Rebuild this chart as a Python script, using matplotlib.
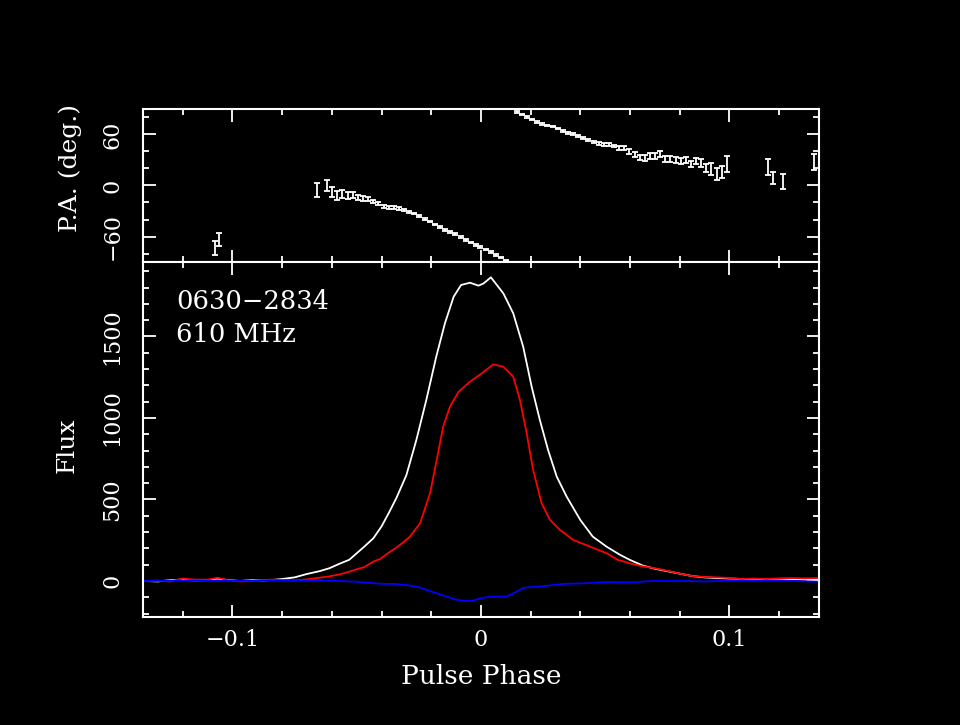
import matplotlib
matplotlib.use("Agg")
import matplotlib.pyplot as plt
from matplotlib.ticker import MultipleLocator, FuncFormatter

plt.rcParams['font.family'] = ['DejaVu Serif']

# --- profile data (pulse phase, flux) ---
i_phase = [-0.136, -0.130, -0.125, -0.120, -0.115, -0.110, -0.106, -0.102, -0.097,
           -0.092, -0.088, -0.084, -0.080, -0.075, -0.070, -0.065, -0.061, -0.057,
           -0.053, -0.050, -0.047, -0.0433, -0.040, -0.037, -0.034, -0.030,
           -0.026, -0.022, -0.018, -0.0145, -0.011, -0.008, -0.0044, -0.001, 0.001,
           0.004, 0.009, 0.013, 0.017, 0.0204, 0.0237, 0.027, 0.0305, 0.0345, 0.040,
           0.045, 0.0506, 0.056, 0.060, 0.065, 0.070, 0.075, 0.080, 0.085, 0.090,
           0.095, 0.100, 0.105, 0.110, 0.115, 0.120, 0.125, 0.130, 0.136]
i_flux = [0, -3, 5, 8, 3, 5, 15, 5, 0,
          5, 3, 6, 12, 22, 43, 60, 78, 105,
          130, 170, 210, 262, 335, 420, 510, 650,
          865, 1110, 1376, 1581, 1744, 1816, 1830, 1812, 1825,
          1863, 1765, 1642, 1437, 1192, 988, 804, 640, 517, 374,
          272, 210, 160, 129, 95, 75, 60, 45, 30, 22,
          18, 15, 12, 13, 10, 8, 12, 8, 6]

l_phase = [-0.136, -0.130, -0.125, -0.120, -0.115, -0.110, -0.106, -0.102, -0.097,
           -0.092, -0.088, -0.084, -0.080, -0.075, -0.070, -0.065, -0.061, -0.057,
           -0.053, -0.050, -0.047, -0.0433, -0.0406, -0.037, -0.034, -0.031, -0.0286,
           -0.0245, -0.0205, -0.0178, -0.0152, -0.0125, -0.009, -0.0044, 0.0, 0.005,
           0.009, 0.013, 0.0157, 0.0184, 0.021, 0.0244, 0.0278, 0.0318, 0.0371, 0.044,
           0.0506, 0.055, 0.060, 0.065, 0.070, 0.075, 0.080, 0.085, 0.090, 0.095,
           0.100, 0.105, 0.110, 0.115, 0.120, 0.125, 0.130, 0.136]
l_flux = [0, 2, -3, 15, 8, 8, 20, 5, -3,
          0, 5, 8, 5, 3, 10, 20, 28, 40,
          57, 72, 85, 119, 135, 175, 205, 240, 272,
          354, 538, 742, 947, 1069, 1161, 1223, 1270, 1329,
          1315, 1253, 1110, 906, 681, 477, 374, 313, 252, 210,
          170, 130, 108, 90, 78, 62, 45, 30, 24, 22,
          18, 12, 14, 12, 16, 18, 16, 18]

v_phase = [-0.136, -0.120, -0.100, -0.080, -0.065, -0.057, -0.050, -0.045, -0.040,
           -0.035, -0.030, -0.025, -0.020, -0.015, -0.010, -0.006, -0.003, 0.0,
           0.004, 0.0103, 0.0144, 0.017, 0.0197, 0.0264, 0.033, 0.0425, 0.0506,
           0.060, 0.070, 0.080, 0.090, 0.100, 0.110, 0.120, 0.130, 0.136]
v_flux = [0, 2, 0, 3, 2, 0, -5, -12, -18,
          -18, -25, -38, -65, -90, -115, -123, -120, -106,
          -96, -96, -65, -43, -38, -30, -18, -14, -6,
          -8, 0, 0, -3, 2, 0, 3, -2, -5]

# --- position angle points ---
pa_phase = [-0.1072, -0.1053, -0.066, -0.062, -0.0598, -0.0578, -0.0558, -0.0536,
            -0.0516, -0.0495, -0.0475, -0.0453, -0.0433, -0.0413, -0.0392, -0.0371,
            -0.035, -0.033, -0.031, -0.0289, -0.0268, -0.0248, -0.0227, -0.0206,
            -0.0185, -0.0165, -0.0145, -0.0124, -0.0103, -0.0082, -0.0062, -0.0041,
            -0.002, -0.0004, 0.002, 0.0042, 0.0062, 0.0082, 0.0102,
            0.0144, 0.0164, 0.0184, 0.0205, 0.0225, 0.0247, 0.0267, 0.0288, 0.0309,
            0.0329, 0.035, 0.037, 0.039, 0.0412, 0.0432, 0.0453, 0.0474, 0.0494,
            0.0515, 0.0535, 0.0557, 0.0577, 0.0597, 0.0618, 0.0639, 0.066, 0.068,
            0.070, 0.0722, 0.0742, 0.0762, 0.0783, 0.0804, 0.0824, 0.0845, 0.0865,
            0.0887, 0.0907, 0.0927, 0.0948, 0.0969, 0.099,
            0.1154, 0.1175, 0.1215, 0.134]
pa_deg = [-73.3, -64, -5, 0, -8, -11.5, -10, -12,
          -11.5, -14.6, -15.5, -16.2, -18.6, -21, -25, -25.7,
          -25.7, -27.3, -28.9, -30.9, -32.9, -36, -39.2, -42.4,
          -46, -49, -52, -54.7, -57.4, -60.6, -63.8, -66.9,
          -69.7, -72.5, -75.3, -78, -81.6, -84.7, -88.3,
          86.7, 83.5, 80.8, 77.6, 74.9, 72.5, 70.5, 69.3, 66.9,
          63.8, 61.4, 60.6, 58.2, 56.2, 53.5, 51.1, 49.5, 48.4,
          48.4, 46.3, 44.3, 44.3, 40, 36.5, 32.4, 32.4, 34.8,
          34.8, 36.8, 30.9, 30.9, 30.5, 28.9, 29.7, 25.3, 28.9,
          26.5, 21, 19.4, 13.4, 15.8, 25.3,
          21.4, 9.1, 5.1, 27.3]
pa_err = [8, 7.7, 8.3, 6.5, 6, 5, 4.5, 4,
          3.5, 3, 3, 2.5, 2, 2, 1.5, 1.5,
          1.5, 1.5, 1.2, 1.2, 1, 1, 1, 1,
          1, 1, 1, 1, 1, 1, 1, 1,
          1, 1, 1, 1, 1, 1, 1,
          1, 1, 1, 1, 1, 1, 1, 1, 1,
          1, 1, 1, 1.2, 1.2, 1.2, 1.5, 1.5, 1.5,
          1.5, 1.5, 2, 2, 2.8, 2.8, 3, 3.5, 3.5,
          3.5, 3.5, 3.5, 3.5, 3.5, 3.8, 3.8, 4, 4,
          4.5, 4.8, 7, 7.3, 7.5, 9,
          9.5, 7, 9, 9.5]


def tick_fmt(v, pos):
    return ('%g' % round(v, 6)).replace('-', '\u2212')


fig = plt.figure(figsize=(9.6, 7.25), dpi=100, facecolor='black')
ax_pa = fig.add_axes([0.149, 0.6386, 0.704, 0.2111], facecolor='black')
ax_fl = fig.add_axes([0.149, 0.149, 0.704, 0.4896], facecolor='black', sharex=ax_pa)

for ax in (ax_pa, ax_fl):
    for sp in ax.spines.values():
        sp.set_color('white')
        sp.set_linewidth(1.5)
    ax.tick_params(which='both', direction='in', top=True, right=True,
                   colors='white', labelsize=16, width=1.3)
    ax.tick_params(which='major', length=9)
    ax.tick_params(which='minor', length=4.5)
    ax.xaxis.set_major_locator(MultipleLocator(0.1))
    ax.xaxis.set_minor_locator(MultipleLocator(0.02))
    ax.xaxis.set_major_formatter(FuncFormatter(tick_fmt))
    ax.yaxis.set_major_formatter(FuncFormatter(tick_fmt))

ax_pa.errorbar(pa_phase, pa_deg, yerr=pa_err, fmt='none', ecolor='white',
               elinewidth=1.3, capsize=2.4, capthick=1.3)
ax_pa.set_xlim(-0.136, 0.136)
ax_pa.set_ylim(-90, 90)
ax_pa.yaxis.set_major_locator(MultipleLocator(60))
ax_pa.yaxis.set_minor_locator(MultipleLocator(20))
ax_pa.tick_params(axis='x', labelbottom=False)

ax_fl.plot(i_phase, i_flux, color='white', lw=1.3)
ax_fl.plot(l_phase, l_flux, color='#ff0000', lw=1.3)
ax_fl.plot(v_phase, v_flux, color='#0000ff', lw=1.3)
ax_fl.set_ylim(-221, 1957)
ax_fl.yaxis.set_major_locator(MultipleLocator(500))
ax_fl.yaxis.set_minor_locator(MultipleLocator(100))
ax_fl.tick_params(axis='x', pad=9)

for ax in (ax_pa, ax_fl):
    ax.tick_params(axis='y', pad=14)
    for lab in ax.get_yticklabels():
        lab.set_rotation(90)
        lab.set_va('center')

ax_fl.text(0.049, 0.868, '0630\u22122834', transform=ax_fl.transAxes,
           color='white', fontsize=18.5, va='baseline')
ax_fl.text(0.049, 0.775, '610 MHz', transform=ax_fl.transAxes,
           color='white', fontsize=18.5, va='baseline')

fig.text(0.501, 1 - 677 / 725, 'Pulse Phase', color='white', fontsize=19,
         ha='center', va='center')
fig.text(67 / 960, 1 - 445 / 725, 'Flux', color='white', fontsize=18,
         ha='center', va='center', rotation=90)
fig.text(70 / 960, 1 - 168 / 725, 'P.A. (deg.)', color='white', fontsize=18,
         ha='center', va='center', rotation=90)

fig.savefig('out.png', dpi=100, facecolor='black')
